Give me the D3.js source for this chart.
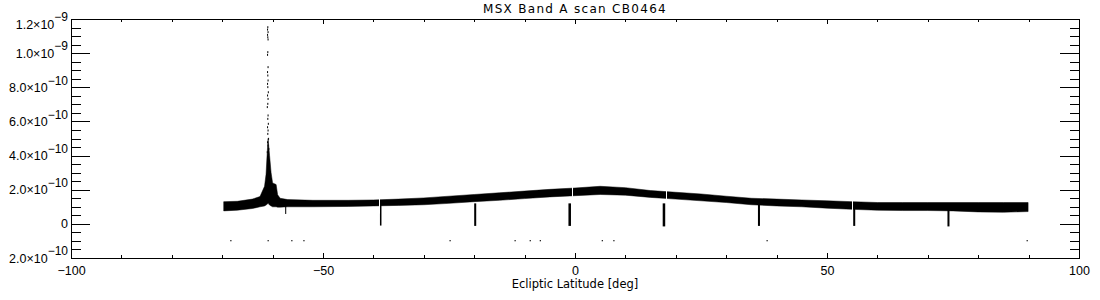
<!DOCTYPE html>
<html>
  <head>
    <meta charset="utf-8">
    <script src="https://d3js.org/d3.v7.min.js"></script>
    <style>
      body { margin: 0; background: #fff; }
      svg { font-family: "DejaVu Sans", sans-serif; }
      .axis text { font-size: 12.5px; fill: #000; }
      .axis line { stroke: #000; stroke-width: 1px; shape-rendering: crispEdges; }
      .axis path { display: none; }
      .title { font-size: 12px; letter-spacing: 1.3px; text-anchor: middle; }
      .xlabel { font-size: 11.5px; text-anchor: middle; }
    </style>
  </head>
  <body>
    <svg width="1100" height="300"></svg>
    <script>
    // all flux values in units of 1e-10

    // band (noise envelope) : latitude, lower edge, upper edge
    var bandLat  = [-69.7, -67, -64, -62.5, -61.6, -61.3, -61.1, -60.9, -60.6, -60.3, -60.0, -59.3, -59.0, -58.5,
                    -57, -52, -45, -40, -35, -30, -25, -20, -15, -10, -5, 0, 5, 10, 15, 20, 25, 30, 35,
                    40, 45, 50, 55, 60, 65, 70, 75, 80, 85, 89.9];
    var bandLow  = [0.76, 0.80, 0.90, 1.00, 1.05, 1.10, 1.15, 1.20, 1.10, 1.05, 1.00, 1.00, 0.98, 0.98,
                    1.00, 1.00, 1.02, 1.05, 1.08, 1.12, 1.20, 1.30, 1.38, 1.48, 1.58, 1.65, 1.72, 1.68, 1.55, 1.45, 1.35, 1.25, 1.12,
                    1.05, 1.00, 0.92, 0.85, 0.80, 0.78, 0.78, 0.76, 0.70, 0.68, 0.72];
    var bandHigh = [1.30, 1.32, 1.45, 1.60, 2.20, 2.90, 4.00, 5.00, 4.00, 3.00, 2.40, 2.30, 1.70, 1.50,
                    1.42, 1.38, 1.38, 1.40, 1.45, 1.52, 1.62, 1.72, 1.82, 1.92, 2.02, 2.10, 2.20, 2.12, 1.95, 1.85, 1.75, 1.62, 1.50,
                    1.45, 1.40, 1.35, 1.30, 1.25, 1.25, 1.25, 1.25, 1.25, 1.25, 1.25];

    // downward dips : start lat, end lat, lowest value
    var dipStart = [-57.5, -38.7, -20.0, -1.3, 17.4, 36.3, 55.2, 73.9];
    var dipEnd   = [-57.3, -38.4, -19.6, -0.8, 17.9, 36.7, 55.6, 74.3];
    var dipMin   = [0.58, -0.10, -0.12, -0.12, -0.15, -0.12, -0.12, -0.15];

    // thin data gaps in the band
    var gapLat = [-38.9, -0.6, 18.1, 55.0];

    // sparse samples above the spike near -61 deg
    var spikeLat = [-60.95, -61.0, -60.9, -61.0, -60.95, -60.9, -60.95, -61.0, -60.9, -61.0, -60.95, -60.9,
                    -61.0, -60.95, -60.85, -61.0, -60.9, -60.95, -61.05, -60.9, -60.95, -60.85, -61.0, -60.9,
                    -60.95, -60.8, -61.0, -60.9, -60.75, -61.05];
    var spikeVal = [11.52, 11.38, 11.23, 11.07, 10.93, 10.80, 10.06, 9.90, 9.18, 8.89, 8.69, 8.40,
                    8.20, 8.01, 7.71, 7.52, 7.32, 7.03, 6.84, 6.35, 6.15, 5.86, 5.66, 5.47,
                    5.27, 4.98, 4.78, 4.59, 4.39, 4.20];

    // isolated low samples
    var dotLat = [-68.3, -60.9, -56.2, -53.8, -24.8, -11.9, -8.9, -6.9, 5.4, 7.7, 38.1, 89.7];
    var dotVal = [-0.98, -0.98, -0.98, -0.98, -0.98, -0.98, -0.98, -0.98, -0.98, -0.98, -0.98, -0.98];

    // ticks
    var xMajor = [-100, -50, 0, 50, 100];
    var xMinor = [-90, -80, -70, -60, -40, -30, -20, -10, 10, 20, 30, 40, 60, 70, 80, 90];
    var yMajor = [-2, 0, 2, 4, 6, 8, 10, 12];
    var yMant  = ["2.0", "0", "2.0", "4.0", "6.0", "8.0", "1.0", "1.2"];
    var yExp   = ["\u221210", "", "\u221210", "\u221210", "\u221210", "\u221210", "\u22129", "\u22129"];
    var yMinor = [-1.5, -1, -0.5, 0.5, 1, 1.5, 2.5, 3, 3.5, 4.5, 5, 5.5, 6.5, 7, 7.5, 8.5, 9, 9.5, 10.5, 11, 11.5];

    var svg = d3.select("svg"),
        margin = {top: 19, right: 21, bottom: 42, left: 71},
        width = svg.attr("width") - margin.left - margin.right,
        height = svg.attr("height") - margin.top - margin.bottom,
        g = svg.append("g").attr("transform", "translate(" + margin.left + "," + margin.top + ")");

    var x = d3.scaleLinear().domain([-100, 100]).range([0, width]),
        y = d3.scaleLinear().domain([-2, 12]).range([height, 0]);

    var band = bandLat.map(function(d, i) { return [d, bandLow[i], bandHigh[i]]; });

    // dips first, band drawn over them
    g.selectAll(".dip")
        .data(dipStart)
        .enter().append("rect")
        .attr("class", "dip")
        .attr("x", function(d) { return x(d); })
        .attr("width", function(d, i) { return Math.max(1, x(dipEnd[i]) - x(d)); })
        .attr("y", y(1.2))
        .attr("height", function(d, i) { return y(dipMin[i]) - y(1.2); })
        .attr("fill", "#000");

    var area = d3.area()
        .x(function(d) { return x(d[0]); })
        .y0(function(d) { return y(d[1]); })
        .y1(function(d) { return y(d[2]); });

    g.append("path")
        .datum(band)
        .attr("d", area)
        .attr("fill", "#000")
        .attr("stroke", "#000")
        .attr("stroke-width", 0.5);

    g.selectAll(".gap")
        .data(gapLat)
        .enter().append("rect")
        .attr("class", "gap")
        .attr("x", function(d) { return Math.round(x(d)); })
        .attr("width", 1)
        .attr("y", y(2.4))
        .attr("height", y(0.6) - y(2.4))
        .attr("fill", "#fff");

    g.selectAll(".spk")
        .data(spikeLat)
        .enter().append("rect")
        .attr("class", "spk")
        .attr("x", function(d) { return x(d) - 0.5; })
        .attr("y", function(d, i) { return y(spikeVal[i]) - 1; })
        .attr("width", 1)
        .attr("height", 2)
        .attr("fill", "#000");

    g.selectAll(".dot")
        .data(dotLat)
        .enter().append("rect")
        .attr("class", "dot")
        .attr("x", function(d) { return x(d) - 0.5; })
        .attr("y", function(d, i) { return y(dotVal[i]) - 0.5; })
        .attr("width", 1.2)
        .attr("height", 1.2)
        .attr("fill", "#000");

    // frame
    g.append("rect")
        .attr("x", 0.5).attr("y", 0.5)
        .attr("width", width).attr("height", height)
        .attr("fill", "none").attr("stroke", "#000")
        .attr("shape-rendering", "crispEdges");

    // bottom axis
    g.append("g").attr("class", "axis")
        .attr("transform", "translate(0," + height + ")")
        .call(d3.axisBottom(x).tickValues(xMajor).tickSize(-5).tickPadding(8)
              .tickFormat(function(d) { return d < 0 ? "\u2212" + Math.abs(d) : d; }));
    g.append("g").attr("class", "axis")
        .attr("transform", "translate(0," + height + ")")
        .call(d3.axisBottom(x).tickValues(xMinor).tickSize(-3).tickFormat(""));

    // top axis
    g.append("g").attr("class", "axis")
        .call(d3.axisBottom(x).tickValues(xMajor).tickSize(5).tickFormat(""));
    g.append("g").attr("class", "axis")
        .call(d3.axisBottom(x).tickValues(xMinor).tickSize(3).tickFormat(""));

    // left axis
    var yl = g.append("g").attr("class", "axis")
        .call(d3.axisLeft(y).tickValues(yMajor).tickSize(-19).tickPadding(3).tickFormat(""));
    g.append("g").attr("class", "axis")
        .call(d3.axisLeft(y).tickValues(yMinor).tickSize(-10).tickFormat(""));

    yl.selectAll(".tick text").each(function(d, i) {
      var t = d3.select(this);
      if (i === yMajor.length - 1) t.attr("y", 5);
      t.append("tspan").text(yMant[i] + (yExp[i] ? "\u00d710" : ""));
      if (yExp[i]) t.append("tspan").attr("dy", "-0.6em").attr("font-size", "12px").text(yExp[i]);
    });

    // right axis
    g.append("g").attr("class", "axis")
        .attr("transform", "translate(" + width + ",0)")
        .call(d3.axisLeft(y).tickValues(yMajor).tickSize(19).tickFormat(""));
    g.append("g").attr("class", "axis")
        .attr("transform", "translate(" + width + ",0)")
        .call(d3.axisLeft(y).tickValues(yMinor).tickSize(9).tickFormat(""));

    svg.append("text")
        .attr("class", "title")
        .attr("x", margin.left + width / 2)
        .attr("y", 13)
        .text("MSX Band A scan CB0464");

    svg.append("text")
        .attr("class", "xlabel")
        .attr("x", margin.left + width / 2)
        .attr("y", 288)
        .text("Ecliptic Latitude [deg]");
    </script>
  </body>
</html>
